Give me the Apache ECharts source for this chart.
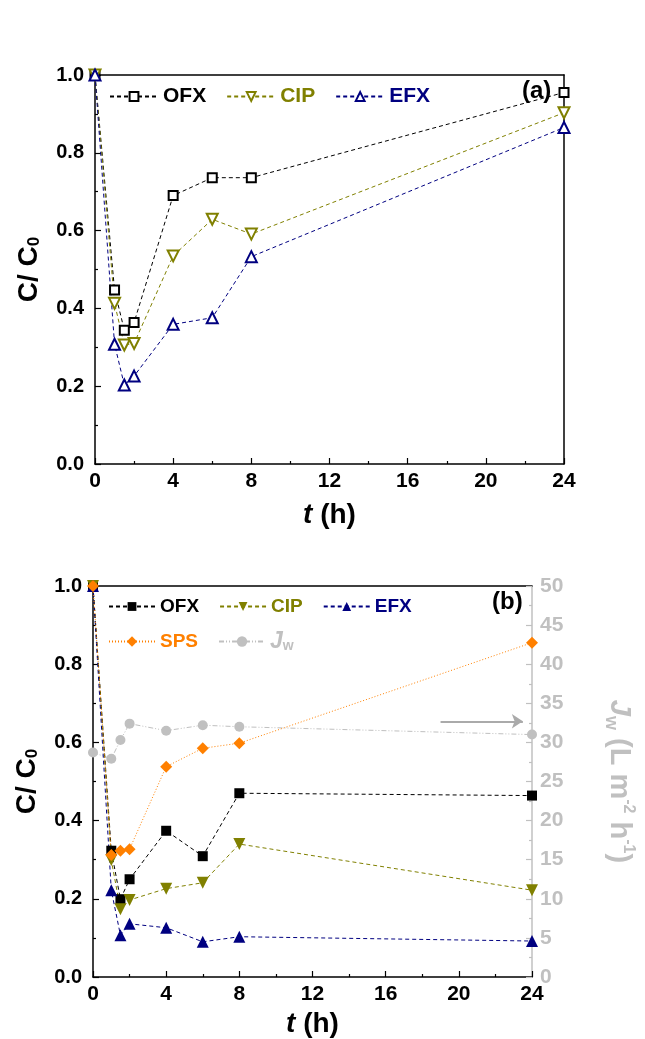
<!DOCTYPE html>
<html>
<head>
<meta charset="utf-8">
<script src="https://cdn.jsdelivr.net/npm/echarts@6/dist/echarts.min.js"></script>
<style>
  html, body { margin: 0; padding: 0; background: #fff; }
  #chart { width: 645px; height: 1039px; }
</style>
</head>
<body>
<div id="chart"></div>
<script>
// sampling times (h)
var times = [0, 1, 1.5, 2, 4, 6, 8, 24];

// panel (a)
var ofxA = [1.0, 0.447, 0.344, 0.364, 0.69, 0.736, 0.736, 0.955];
var cipA = [1.0, 0.413, 0.306, 0.31, 0.535, 0.629, 0.591, 0.903];
var efxA = [1.0, 0.308, 0.203, 0.226, 0.359, 0.376, 0.533, 0.865];

// panel (b)
var ofxB = [1.0, 0.323, 0.199, 0.25, 0.374, 0.309, 0.47, 0.464];
var cipB = [1.0, 0.299, 0.173, 0.197, 0.226, 0.241, 0.34, 0.222];
var efxB = [1.0, 0.222, 0.107, 0.136, 0.126, 0.09, 0.103, 0.092];
var spsB = [1.0, 0.312, 0.323, 0.327, 0.538, 0.585, 0.598, 0.855];
var jwB = [28.7, 27.9, 30.3, 32.4, 31.5, 32.2, 32.0, 31.0];

var FONT = "Liberation Sans, Arial, sans-serif";
var GRAY = "#c0c0c0";
var ORANGE = "#ff8000";
var OLIVE = "#808000";
var NAVY = "#000080";

function pairs(ys) {
  return times.map(function (t, i) { return [t, ys[i]]; });
}

var chart = echarts.init(document.getElementById("chart"));

function xAxisBottom(gridIndex, gap) {
  return {
    type: "value", gridIndex: gridIndex, min: 0, max: 24, interval: 4,
    axisLine: { onZero: false, lineStyle: { color: "#000", width: 1.5 } },
    axisTick: { inside: true, length: 6, lineStyle: { color: "#000", width: 1.2 } },
    minorTick: { show: true, splitNumber: 2, length: 3, lineStyle: { color: "#000", width: 1.2 } },
    splitLine: { show: false },
    axisLabel: { color: "#000", fontFamily: FONT, fontWeight: "bold", fontSize: 21, margin: 7 },
    name: "{i|t} (h)", nameLocation: "middle", nameGap: gap,
    nameTextStyle: {
      color: "#000", fontFamily: FONT, fontWeight: "bold", fontSize: 28,
      rich: { i: { fontFamily: FONT, fontWeight: "bold", fontStyle: "italic", fontSize: 28, color: "#000" } }
    }
  };
}
function xAxisTop(gridIndex) {
  return {
    type: "value", gridIndex: gridIndex, position: "top", min: 0, max: 24,
    axisLine: { onZero: false, lineStyle: { color: "#000", width: 1.5 } },
    axisTick: { show: false }, axisLabel: { show: false }, splitLine: { show: false }
  };
}
function yAxisLeft(gridIndex) {
  return {
    type: "value", gridIndex: gridIndex, min: 0, max: 1, interval: 0.2,
    axisLine: { show: true, onZero: false, lineStyle: { color: "#000", width: 1.5 } },
    axisTick: { show: true, inside: true, length: 6, lineStyle: { color: "#000", width: 1.2 } },
    minorTick: { show: true, splitNumber: 2, length: 3, lineStyle: { color: "#000", width: 1.2 } },
    splitLine: { show: false },
    axisLabel: {
      color: "#000", fontFamily: FONT, fontWeight: "bold", fontSize: 20, margin: 11,
      formatter: function (v) { return v.toFixed(1); }
    },
    name: "C/ C{s|0}", nameLocation: "middle", nameGap: 52, nameRotate: 90,
    nameTextStyle: {
      color: "#000", fontFamily: FONT, fontWeight: "bold", fontSize: 28,
      rich: { s: { fontFamily: FONT, fontWeight: "bold", fontSize: 17, color: "#000", verticalAlign: "bottom", lineHeight: 12 } }
    }
  };
}

var dashed = [4, 3];

chart.setOption({
  animation: false,
  backgroundColor: "#fff",
  grid: [
    { left: 95, top: 75, width: 469, height: 389, containLabel: false },
    { left: 93, top: 586, width: 439, height: 391, containLabel: false }
  ],
  xAxis: [xAxisBottom(0, 37), xAxisTop(0), xAxisBottom(1, 33), xAxisTop(1)],
  yAxis: [
    yAxisLeft(0),
    {
      type: "value", gridIndex: 0, position: "right", min: 0, max: 1,
      axisLine: { show: true, onZero: false, lineStyle: { color: "#000", width: 1.5 } },
      axisTick: { show: false }, axisLabel: { show: false }, splitLine: { show: false }
    },
    yAxisLeft(1),
    {
      type: "value", gridIndex: 1, position: "right", min: 0, max: 50, interval: 5,
      axisLine: { show: true, onZero: false, lineStyle: { color: GRAY, width: 1.5 } },
      axisTick: { show: true, inside: true, length: 6, lineStyle: { color: GRAY, width: 1.2 } },
      minorTick: { show: true, splitNumber: 2, length: 3, lineStyle: { color: GRAY, width: 1.2 } },
      splitLine: { show: false },
      axisLabel: { color: GRAY, fontFamily: FONT, fontWeight: "bold", fontSize: 21, margin: 8 },
      name: "{i|J}{s|w} (L m{p|-2} h{p|-1})", nameLocation: "middle", nameGap: 70, nameRotate: -90,
      nameTextStyle: {
        color: GRAY, fontFamily: FONT, fontWeight: "bold", fontSize: 29,
        rich: {
          i: { fontFamily: FONT, fontWeight: "bold", fontStyle: "italic", fontSize: 29, color: GRAY },
          s: { fontFamily: FONT, fontWeight: "bold", fontSize: 18, color: GRAY, verticalAlign: "bottom", lineHeight: 16 },
          p: { fontFamily: FONT, fontWeight: "bold", fontSize: 16, color: GRAY, verticalAlign: "top", lineHeight: 34 }
        }
      }
    }
  ],
  legend: [
    {
      left: 104, top: 81, itemWidth: 48, itemHeight: 11, itemGap: 20, orient: "horizontal",
      data: [
        { name: "OFX-a", textStyle: { color: "#000" } },
        { name: "CIP-a", textStyle: { color: OLIVE } },
        { name: "EFX-a", textStyle: { color: NAVY } }
      ],
      formatter: function (n) { return n.split("-")[0]; },
      textStyle: { fontFamily: FONT, fontWeight: "bold", fontSize: 21 }
    },
    {
      left: 103, top: 592, itemWidth: 46, itemHeight: 11, itemGap: 20,
      data: [
        { name: "OFX-b", textStyle: { color: "#000" } },
        { name: "CIP-b", textStyle: { color: OLIVE } },
        { name: "EFX-b", textStyle: { color: NAVY } }
      ],
      formatter: function (n) { return n.split("-")[0]; },
      textStyle: { fontFamily: FONT, fontWeight: "bold", fontSize: 19 }
    },
    {
      left: 103, top: 625, itemWidth: 46, itemHeight: 13, itemGap: 20,
      data: [
        { name: "SPS-b", textStyle: { color: ORANGE } },
        { name: "Jw-b", textStyle: { color: GRAY } }
      ],
      formatter: function (n) { return n === "Jw-b" ? "{i|J}{s|w}" : "SPS"; },
      textStyle: {
        fontFamily: FONT, fontWeight: "bold", fontSize: 19,
        rich: {
          i: { fontFamily: FONT, fontWeight: "bold", fontStyle: "italic", fontSize: 23, color: GRAY },
          s: { fontFamily: FONT, fontWeight: "bold", fontSize: 14, color: GRAY, verticalAlign: "bottom", lineHeight: 10 }
        }
      }
    }
  ],
  graphic: [
    { type: "text", left: 522, top: 79, style: { text: "(a)", fill: "#000", font: "bold 24px " + FONT } },
    { type: "text", left: 492, top: 590, style: { text: "(b)", fill: "#000", font: "bold 24px " + FONT } }
  ],
  series: [
    // panel (a)
    {
      name: "OFX-a", type: "line", xAxisIndex: 0, yAxisIndex: 0, data: pairs(ofxA),
      symbol: "emptyRect", symbolSize: 9, color: "#000",
      lineStyle: { color: "#000", width: 1, type: dashed }, itemStyle: { color: "#000", borderWidth: 1 }
    },
    {
      name: "CIP-a", type: "line", xAxisIndex: 0, yAxisIndex: 0, data: pairs(cipA),
      symbol: "emptyTriangle", symbolRotate: 180, symbolSize: 11, color: OLIVE,
      lineStyle: { color: OLIVE, width: 1, type: dashed }, itemStyle: { color: OLIVE, borderWidth: 1 }
    },
    {
      name: "EFX-a", type: "line", xAxisIndex: 0, yAxisIndex: 0, data: pairs(efxA),
      symbol: "emptyTriangle", symbolSize: 11, color: NAVY,
      lineStyle: { color: NAVY, width: 1, type: dashed }, itemStyle: { color: NAVY, borderWidth: 1 }
    },
    // panel (b)
    {
      name: "Jw-b", type: "line", xAxisIndex: 2, yAxisIndex: 3, data: pairs(jwB),
      symbol: "circle", symbolSize: 10, color: GRAY, z: 1,
      lineStyle: { color: GRAY, width: 1, type: [5, 2, 1, 2, 1, 2] }, itemStyle: { color: GRAY },
      markLine: {
        silent: true, symbol: ["none", "arrow"], symbolSize: 11,
        label: { show: false },
        lineStyle: { color: "#aaaaaa", width: 2, type: "solid" },
        data: [[{ coord: [19.0, 32.7] }, { coord: [23.5, 32.7] }]]
      }
    },
    {
      name: "OFX-b", type: "line", xAxisIndex: 2, yAxisIndex: 2, data: pairs(ofxB),
      symbol: "rect", symbolSize: 10, color: "#000",
      lineStyle: { color: "#000", width: 1, type: dashed }, itemStyle: { color: "#000" }
    },
    {
      name: "CIP-b", type: "line", xAxisIndex: 2, yAxisIndex: 2, data: pairs(cipB),
      symbol: "triangle", symbolRotate: 180, symbolSize: 12, color: OLIVE,
      lineStyle: { color: OLIVE, width: 1, type: dashed }, itemStyle: { color: OLIVE }
    },
    {
      name: "EFX-b", type: "line", xAxisIndex: 2, yAxisIndex: 2, data: pairs(efxB),
      symbol: "triangle", symbolSize: 12, color: NAVY,
      lineStyle: { color: NAVY, width: 1, type: dashed }, itemStyle: { color: NAVY }
    },
    {
      name: "SPS-b", type: "line", xAxisIndex: 2, yAxisIndex: 2, data: pairs(spsB),
      symbol: "diamond", symbolSize: 12, color: ORANGE,
      lineStyle: { color: ORANGE, width: 1, type: [1, 2] }, itemStyle: { color: ORANGE }
    }
  ]
});
</script>
</body>
</html>
